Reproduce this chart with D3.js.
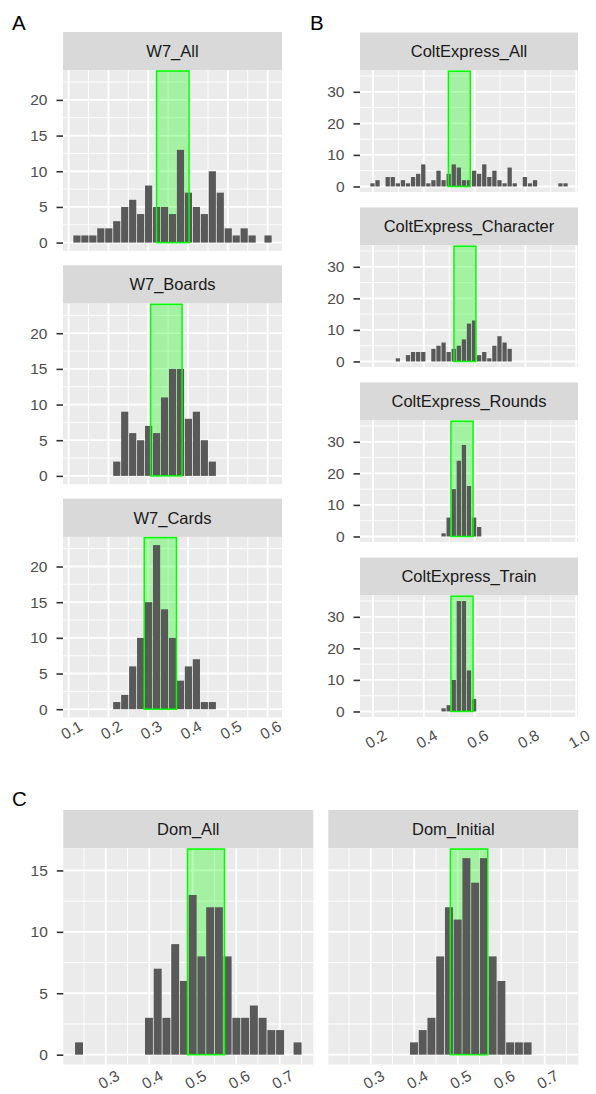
<!DOCTYPE html>
<html>
<head>
<meta charset="utf-8">
<script src="https://cdn.jsdelivr.net/npm/d3@7"></script>
<style>
  body { margin: 0; background: #fff; }
  svg text { font-family: "Liberation Sans", Arial, sans-serif; }
</style>
</head>
<body>
<svg id="chart" width="596" height="1094"></svg>
<script>
// ---- data ----
// panel A: W7
const w7Facets = ["W7_All", "W7_Boards", "W7_Cards"];
const w7BinStart = 0.111;
const w7BinWidth = 0.02;
const w7All    = [1,1,1,2,2,3,5,6,4,8,5,5,4,13,7,5,4,10,7,2,1,2,1,0,1];
const w7Boards = [0,0,0,0,0,2,9,6,5,7,6,11,15,15,8,9,5,2,0,0,0,0,0,0,0];
const w7Cards  = [0,0,0,0,0,1,2,6,10,15,23,14,10,4,6,7,1,1,0,0,0,0,0,0,0];
const w7Windows = [[0.321, 0.4025], [0.306, 0.385], [0.29, 0.371]];
const w7XTicks = [0.1, 0.2, 0.3, 0.4, 0.5, 0.6];
const w7YTicks = [0, 5, 10, 15, 20];

// panel B: Colt Express
const coltFacets = ["ColtExpress_All", "ColtExpress_Character", "ColtExpress_Rounds", "ColtExpress_Train"];
const coltBinStart = 0.188;
const coltBinWidth = 0.02;
const coltAll       = [1,2,0,3,3,1,2,1,3,4,7,1,2,5,2,4,7,6,2,2,5,4,7,3,5,2,1,6,1,0,3,1,2,0,0,0,0,1,1];
const coltCharacter = [0,0,0,0,0,1,0,2,3,3,3,0,4,5,6,3,4,5,7,12,13,2,3,1,5,8,6,4,0,0,0,0,0,0,0,0,0,0,0];
const coltRounds    = [0,0,0,0,0,0,0,0,0,0,0,0,0,0,1,6,15,24,29,16,6,3,0,0,0,0,0,0,0,0,0,0,0,0,0,0,0,0,0];
const coltTrain     = [0,0,0,0,0,0,0,0,0,0,0,0,0,0,1,2,10,35,35,13,4,0,0,0,0,0,0,0,0,0,0,0,0,0,0,0,0,0,0];
const coltWindows = [[0.497, 0.583], [0.519, 0.605], [0.507, 0.594], [0.507, 0.594]];
const coltXTicks = [0.2, 0.4, 0.6, 0.8, 1.0];
const coltYTicks = [0, 10, 20, 30];

// panel C: Dominion
const domFacets = ["Dom_All", "Dom_Initial"];
const domBinStart = 0.2285;
const domBinWidth = 0.0201;
const domAll     = [1,0,0,0,0,0,0,0,3,7,3,9,6,13,8,12,12,8,3,3,4,3,2,2,0,1];
const domInitial = [0,0,0,0,0,0,0,0,1,2,3,8,12,11,16,14,16,8,6,1,1,1,0,0,0,0];
const domWindows = [[0.488, 0.573], [0.483, 0.569]];
const domXTicks = [0.3, 0.4, 0.5, 0.6, 0.7];
const domYTicks = [0, 5, 10, 15];

const svg = d3.select("#chart");

// ggplot style default expansion of 5%
function expand(lo, hi) {
  const r = hi - lo;
  return [lo - r * 0.05, hi + r * 0.05];
}

function minorsOf(ticks, dom) {
  const step = ticks[1] - ticks[0];
  const out = [];
  for (let i = -1; i < ticks.length; i++) {
    const m = ticks[0] + step * (i + 0.5);
    if (m > dom[0] && m < dom[1]) out.push(m);
  }
  return out;
}

function drawFacet(o) {
  const g = svg.append("g");
  const pTop = o.top + o.stripH;
  const pBot = pTop + o.panelH;
  const x = d3.scaleLinear().domain(o.xDom).range([o.x0, o.x1]);
  const y = d3.scaleLinear().domain(o.yDom).range([pBot, pTop]);

  // strip
  g.append("rect").attr("x", o.x0).attr("y", o.top)
    .attr("width", o.x1 - o.x0).attr("height", o.stripH).attr("fill", "#d9d9d9");
  g.append("text").attr("x", (o.x0 + o.x1) / 2).attr("y", o.top + o.stripH / 2)
    .attr("dy", "0.36em").attr("text-anchor", "middle")
    .attr("font-size", 16.5).attr("fill", "#1a1a1a").text(o.title);

  // panel background + grid
  g.append("rect").attr("x", o.x0).attr("y", pTop)
    .attr("width", o.x1 - o.x0).attr("height", o.panelH).attr("fill", "#ebebeb");
  const xMin = minorsOf(o.xTicks, o.xDom);
  const yMin = minorsOf(o.yTicks, o.yDom);
  g.selectAll(".vmin").data(xMin).join("line")
    .attr("x1", d => x(d)).attr("x2", d => x(d)).attr("y1", pTop).attr("y2", pBot)
    .attr("stroke", "#fff").attr("stroke-width", 0.9);
  g.selectAll(".hmin").data(yMin).join("line")
    .attr("x1", o.x0).attr("x2", o.x1).attr("y1", d => y(d)).attr("y2", d => y(d))
    .attr("stroke", "#fff").attr("stroke-width", 0.9);
  g.selectAll(".vmaj").data(o.xTicks).join("line")
    .attr("x1", d => x(d)).attr("x2", d => x(d)).attr("y1", pTop).attr("y2", pBot)
    .attr("stroke", "#fff").attr("stroke-width", 1.8);
  g.selectAll(".hmaj").data(o.yTicks).join("line")
    .attr("x1", o.x0).attr("x2", o.x1).attr("y1", d => y(d)).attr("y2", d => y(d))
    .attr("stroke", "#fff").attr("stroke-width", 1.8);

  // highlighted window (fill under the bars)
  const [wl, wr] = o.window;
  g.append("rect").attr("x", x(wl)).attr("y", pTop)
    .attr("width", x(wr) - x(wl)).attr("height", y(0) - pTop)
    .attr("fill", "rgba(0,255,0,0.3)");

  // histogram bars
  const bars = o.counts.map((c, i) => ({ lo: o.binStart + i * o.binWidth, c }))
    .filter(d => d.c > 0);
  g.selectAll(".bar").data(bars).join("rect")
    .attr("x", d => x(d.lo) + 0.4)
    .attr("width", d => x(d.lo + o.binWidth) - x(d.lo) - 0.8)
    .attr("y", d => y(d.c))
    .attr("height", d => y(0) - y(d.c))
    .attr("fill", "#595959");

  // window outline on top
  g.append("rect").attr("x", x(wl)).attr("y", pTop + 0.75)
    .attr("width", x(wr) - x(wl)).attr("height", y(0) - pTop - 0.75)
    .attr("fill", "none").attr("stroke", "#00ff00").attr("stroke-width", 1.5);

  // y axis
  if (o.yAxis) {
    const ya = g.append("g").attr("transform", `translate(${o.x0},0)`)
      .call(d3.axisLeft(y).tickValues(o.yTicks).tickSize(6.5).tickPadding(9));
    ya.select(".domain").remove();
    ya.selectAll(".tick line").attr("stroke", "#333").attr("stroke-width", 1.6);
    ya.selectAll(".tick text").attr("font-size", 15.5).attr("fill", "#4d4d4d")
      .attr("font-family", "Liberation Sans, Arial, sans-serif");
  }

  // x axis, rotated labels
  if (o.xAxis) {
    g.selectAll(".xl").data(o.xTicks).join("text")
      .attr("transform", d => `translate(${x(d) + 3},${o.xLabY}) rotate(-30)`)
      .attr("text-anchor", "middle").attr("dy", "0.35em")
      .attr("font-size", 15.5).attr("fill", "#4d4d4d")
      .text(d => d3.format(".1f")(d));
  }
}

function panelLabel(t, px, py) {
  svg.append("text").attr("x", px).attr("y", py)
    .attr("font-size", 20.5).attr("fill", "#000").text(t);
}

// ---- panel A ----
const w7Counts = [w7All, w7Boards, w7Cards];
const w7XDom = expand(w7BinStart, w7BinStart + w7All.length * w7BinWidth);
const w7YDom = expand(0, d3.max(w7Counts.flat()));
w7Facets.forEach((name, i) => {
  drawFacet({
    title: name, x0: 63, x1: 282, top: 32 + i * 233.3, stripH: 38.3, panelH: 180.5,
    xDom: w7XDom, yDom: w7YDom, xTicks: w7XTicks, yTicks: w7YTicks,
    counts: w7Counts[i], binStart: w7BinStart, binWidth: w7BinWidth,
    window: w7Windows[i], yAxis: true, xAxis: i === w7Facets.length - 1, xLabY: 730
  });
});
panelLabel("A", 12, 29.5);

// ---- panel B ----
const coltCounts = [coltAll, coltCharacter, coltRounds, coltTrain];
const coltXDom = expand(coltBinStart, coltBinStart + coltAll.length * coltBinWidth);
const coltYDom = expand(0, d3.max(coltCounts.flat()));
coltFacets.forEach((name, i) => {
  drawFacet({
    title: name, x0: 360, x1: 578, top: 32.5 + i * 175, stripH: 38, panelH: 121.5,
    xDom: coltXDom, yDom: coltYDom, xTicks: coltXTicks, yTicks: coltYTicks,
    counts: coltCounts[i], binStart: coltBinStart, binWidth: coltBinWidth,
    window: coltWindows[i], yAxis: true, xAxis: i === coltFacets.length - 1, xLabY: 739
  });
});
panelLabel("B", 310, 29.5);

// ---- panel C ----
const domCounts = [domAll, domInitial];
const domXDom = expand(domBinStart, domBinStart + domAll.length * domBinWidth);
const domYDom = expand(0, d3.max(domCounts.flat()));
const domX0 = [63.3, 328.3];
domFacets.forEach((name, i) => {
  drawFacet({
    title: name, x0: domX0[i], x1: domX0[i] + 250, top: 810, stripH: 38.3, panelH: 216.2,
    xDom: domXDom, yDom: domYDom, xTicks: domXTicks, yTicks: domYTicks,
    counts: domCounts[i], binStart: domBinStart, binWidth: domBinWidth,
    window: domWindows[i], yAxis: i === 0, xAxis: true, xLabY: 1079.5
  });
});
panelLabel("C", 12, 806);
</script>
</body>
</html>
